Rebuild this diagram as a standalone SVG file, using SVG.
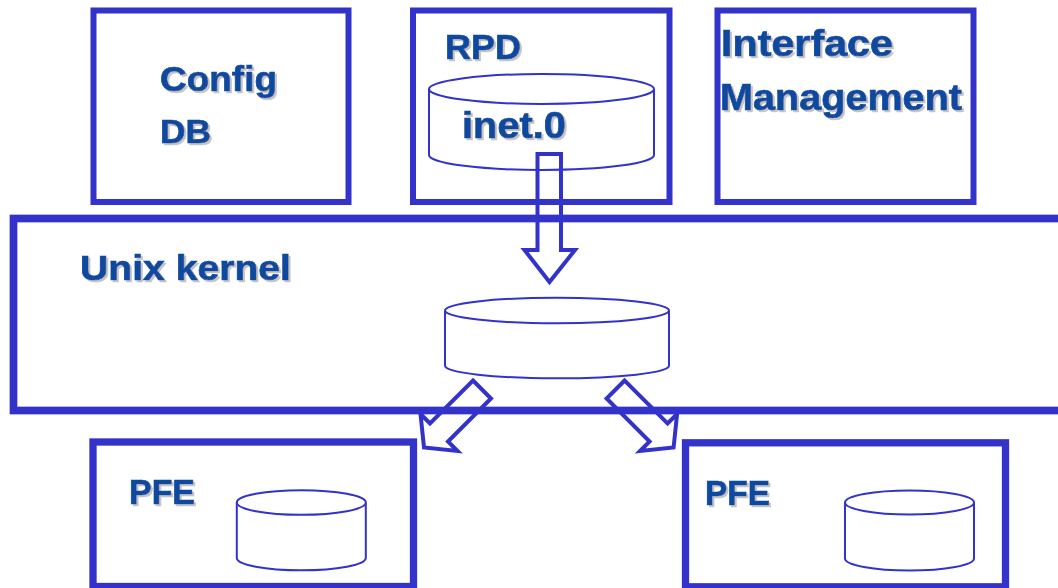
<svg xmlns="http://www.w3.org/2000/svg" width="1058" height="588" viewBox="0 0 1058 588">
  <defs>
    <filter id="shadow" x="-10%" y="-20%" width="130%" height="150%">
      <feOffset in="SourceAlpha" dx="2" dy="2" result="off"/>
      <feGaussianBlur in="off" stdDeviation="0.7" result="blur"/>
      <feFlood flood-color="#c4c4c4"/>
      <feComposite operator="in" in2="blur" result="sh"/>
      <feMerge>
        <feMergeNode in="sh"/>
        <feMergeNode in="SourceGraphic"/>
      </feMerge>
    </filter>
  </defs>
  <style>
    .box { fill: none; stroke: #3333cc; }
    .cyl { fill: #ffffff; stroke: #3333cc; stroke-width: 2; }
    .arrow { fill: none; stroke: #3333cc; stroke-width: 4; stroke-linejoin: miter; }
    .label { font-family: "Liberation Sans", Arial, sans-serif; font-weight: bold; fill: #0e499e; stroke: #0e499e; stroke-width: 0.7; filter: url(#shadow); }
  </style>
  <rect width="1058" height="588" fill="#ffffff"/>

  <!-- Config DB -->
  <g id="config-db">
    <rect class="box" x="93.5" y="10.5" width="255" height="191.5" stroke-width="6"/>
    <text class="label" x="160" y="91" font-size="35" textLength="117" lengthAdjust="spacingAndGlyphs">Config</text>
    <text class="label" x="160" y="143" font-size="34" textLength="51" lengthAdjust="spacingAndGlyphs">DB</text>
  </g>

  <!-- RPD with inet.0 routing table -->
  <g id="rpd">
    <rect class="box" x="413" y="10.5" width="256.5" height="191.5" stroke-width="6"/>
    <text class="label" x="445" y="59" font-size="34.5" textLength="76" lengthAdjust="spacingAndGlyphs">RPD</text>
    <path class="cyl" d="M429,89 V155 A112.5,15 0 0 0 654,155 V89"/>
    <ellipse class="cyl" cx="541.5" cy="89" rx="112.5" ry="15"/>
    <text class="label" x="462" y="138" font-size="36.5" textLength="104" lengthAdjust="spacingAndGlyphs">inet.0</text>
  </g>

  <!-- Interface Management -->
  <g id="interface-management">
    <rect class="box" x="717.5" y="10.5" width="256" height="191.5" stroke-width="6"/>
    <text class="label" x="721" y="56" font-size="36" textLength="172" lengthAdjust="spacingAndGlyphs">Interface</text>
    <text class="label" x="720" y="110" font-size="36" textLength="242" lengthAdjust="spacingAndGlyphs">Management</text>
  </g>

  <!-- Unix kernel -->
  <g id="unix-kernel">
    <rect class="box" x="13.5" y="218.5" width="1070" height="192" stroke-width="7.7"/>
    <text class="label" x="80" y="280" font-size="35.5" textLength="211" lengthAdjust="spacingAndGlyphs">Unix kernel</text>
    <path class="cyl" d="M445,310.5 V365.8 A112,12.5 0 0 0 669,365.8 V310.5"/>
    <ellipse class="cyl" cx="557" cy="310.5" rx="112" ry="12.8"/>
  </g>

  <!-- PFE left -->
  <g id="pfe-left">
    <rect class="box" x="93" y="442" width="320.5" height="144.5" stroke-width="7.3"/>
    <text class="label" x="129" y="504" font-size="34.5" textLength="66" lengthAdjust="spacingAndGlyphs">PFE</text>
    <path class="cyl" d="M236.8,502.5 V558 A64.5,12.3 0 0 0 365.8,558 V502.5"/>
    <ellipse class="cyl" cx="301.3" cy="502.5" rx="64.5" ry="12.3"/>
  </g>

  <!-- PFE right -->
  <g id="pfe-right">
    <rect class="box" x="685.5" y="442.8" width="320" height="144" stroke-width="7.3"/>
    <text class="label" x="705" y="505" font-size="34.5" textLength="65" lengthAdjust="spacingAndGlyphs">PFE</text>
    <path class="cyl" d="M845,502.5 V558.5 A64.5,12 0 0 0 974,558.5 V502.5"/>
    <ellipse class="cyl" cx="909.5" cy="502.5" rx="64.5" ry="12"/>
  </g>

  <!-- Connectors: hollow block arrows -->
  <g id="connectors">
    <path class="arrow" d="M537.5,154 H561 V250 H575 L549.5,282 L524.5,250 H537.5 Z"/>
    <path class="arrow" d="M473,380.5 L491,398.5 L448,441.5 L457.5,451 L424,447.5 L420.5,414 L430,423.5 Z"/>
    <path class="arrow" d="M624.6,380.5 L606.6,398.5 L649.6,441.5 L640.1,451 L673.6,447.5 L677.1,414 L667.6,423.5 Z"/>
  </g>
</svg>
